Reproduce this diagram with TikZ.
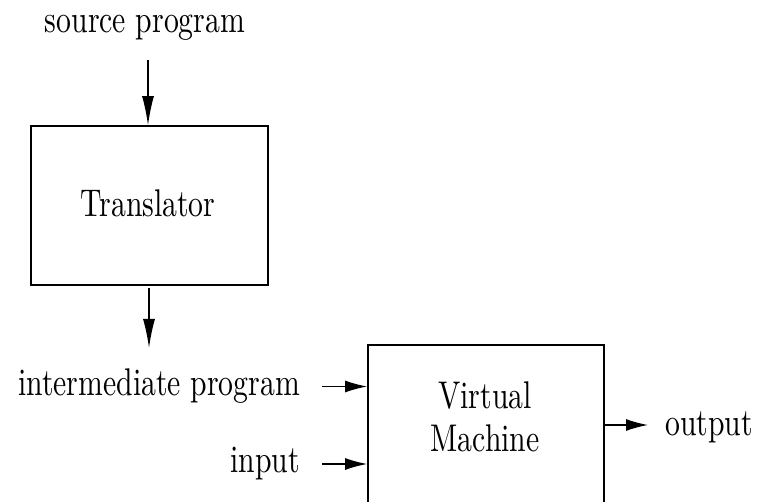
\documentclass[tikz,border=0pt]{standalone}
\usepackage{fontspec}
\setmainfont{lmroman10-regular}[Extension=.otf]
\usetikzlibrary{arrows.meta}
\begin{document}
\begin{tikzpicture}[x=1pt,y=-1pt,
  lbl/.style={inner sep=0pt, font=\fontsize{29.7}{35.4}\selectfont},
  blk/.style={draw, line width=1.6pt, inner sep=0pt},
  harr/.style={line width=1.4pt, -{Latex[length=22pt,width=12pt]}},
  varr/.style={line width=1.4pt, -{Latex[length=29pt,width=12pt]}}]
\useasboundingbox (0,0) rectangle (757,502);
\clip (0,0) rectangle (757,502);
\node[blk, minimum width=237pt, minimum height=159pt] (trans) at (149.5,205.5) {};
\node[lbl] (translbl) at (148,203) {\scalebox{1}[1.3]{Translator}};
\node[blk, minimum width=236pt, minimum height=215pt] (vm) at (486,452.5) {};
\node[lbl, align=center] (vmlbl) at (485,421) {\scalebox{1}[1.3]{\begin{tabular}{@{}c@{}}Virtual\\[-2pt]Machine\end{tabular}}};
\node[lbl] (src) at (145,27.5) {\scalebox{1}[1.3]{source program}};
\node[lbl, anchor=east] (ip) at (300,386.5) {\scalebox{1}[1.3]{intermediate program}};
\node[lbl, anchor=east] (inp) at (300,464) {\scalebox{1}[1.3]{input}};
\node[lbl, anchor=west] (out) at (665,427) {\scalebox{1}[1.3]{output}};
\coordinate (srcend) at (148,60);
\coordinate (transout) at (149,288);
\coordinate (ipend) at (149,348);
\draw[varr] (srcend) -- (srcend |- trans.north);
\draw[varr] (transout) -- (ipend);
\draw[harr] ([xshift=22pt]ip.east) -- (ip.east -| vm.west);
\draw[harr] ([xshift=22pt]inp.east) -- (inp.east -| vm.west);
\draw[harr] (vm.east |- 0,425) -- (648,425);
\end{tikzpicture}
\end{document}
